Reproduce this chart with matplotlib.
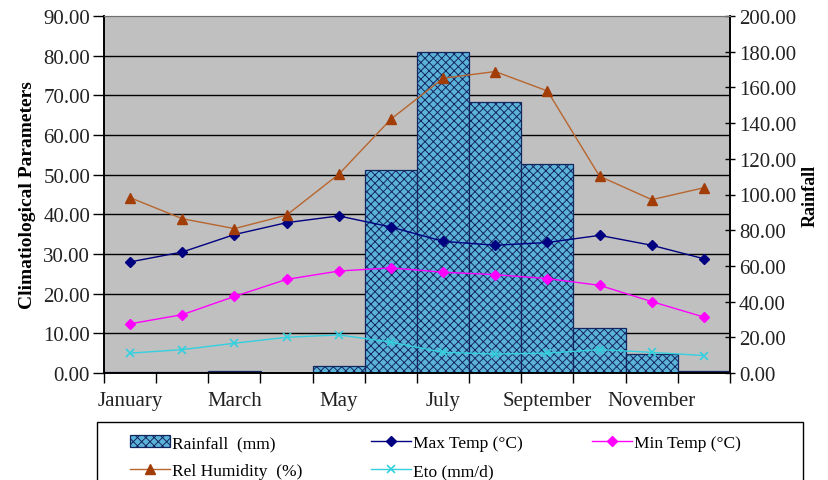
import numpy as np
import matplotlib.pyplot as plt
import matplotlib.ticker as mticker
from matplotlib.patches import Rectangle

plt.rcParams['font.family'] = ['Liberation Serif', 'DejaVu Serif']
plt.rcParams['hatch.linewidth'] = 0.7

# %%
months = ['January', 'February', 'March', 'April', 'May', 'June', 'July',
          'August', 'September', 'October', 'November', 'December']
rainfall = [0.6, 0.5, 1.3, 0.0, 4.0, 114.0, 180.0, 152.0, 117.0, 25.0, 10.5, 1.3]
max_temp = [28.0, 30.5, 34.9, 37.9, 39.6, 36.8, 33.2, 32.2, 32.9, 34.7, 32.2, 28.8]
min_temp = [12.4, 14.7, 19.3, 23.6, 25.7, 26.5, 25.4, 24.8, 23.8, 22.1, 18.0, 14.1]
rel_hum = [44.2, 38.9, 36.4, 39.8, 50.1, 64.0, 74.3, 76.0, 71.1, 49.6, 43.7, 46.7]
eto = [5.0, 5.9, 7.5, 9.0, 9.6, 7.8, 5.2, 4.8, 5.0, 5.9, 5.2, 4.4]
left_ticks = [0, 10, 20, 30, 40, 50, 60, 70, 80, 90]
right_ticks = [0, 20, 40, 60, 80, 100, 120, 140, 160, 180, 200]

# %%
fig = plt.figure(figsize=(8.29, 4.81), dpi=100)
ax = fig.add_axes([104/829, 1-374/481, 626/829, 357/481])
ax2 = ax.twinx()
ax.set_zorder(ax2.get_zorder() + 1)
ax.patch.set_visible(False)
ax2.patch.set_visible(True)
ax2.patch.set_facecolor('#c0c0c0')

x = np.arange(len(months))

# grid lines follow the left axis but sit behind the bars
for v in left_ticks[1:-1]:
    ax2.axhline(v * 200 / 90, color='black', lw=1.0, zorder=0)

bars = ax2.bar(x, rainfall, width=1.0, facecolor='#5cb3da', edgecolor='#14265e',
               hatch='xxxx', lw=0.9, zorder=1, label='Rainfall  (mm)')

l_max, = ax.plot(x, max_temp, color='#000080', marker='D', ms=5.5, lw=1.0,
                 label='Max Temp (°C)')
l_min, = ax.plot(x, min_temp, color='#ff00ff', marker='D', ms=5.5, lw=1.0,
                 label='Min Temp (°C)')
l_rh, = ax.plot(x, rel_hum, color='#b8652e', marker='^', ms=7, lw=1.0,
                mfc='#a33d08', mec='#a33d08', label='Rel Humidity  (%)')
l_eto, = ax.plot(x, eto, color='#33d0e0', marker='x', ms=6, lw=1.0, mew=1.2,
                 label='Eto (mm/d)')

ax.set_xlim(-0.5, 11.5)
ax.set_ylim(0, 90)
ax2.set_ylim(0, 200)

ax.set_xticks(x[::2])
ax.set_xticklabels(months[::2])
ax.set_xticks(np.arange(-0.5, 12, 1), minor=True)
ax.tick_params(axis='x', which='major', length=0, pad=13, labelsize=15, labelcolor='#222222')
ax.tick_params(axis='x', which='minor', length=7, width=1, direction='out')

ax.set_yticks(left_ticks)
ax.yaxis.set_major_formatter(mticker.FormatStrFormatter('%.2f'))
ax.tick_params(axis='y', length=8, width=1, labelsize=15, labelcolor='#222222', pad=2)
ax2.set_yticks(right_ticks)
ax2.yaxis.set_major_formatter(mticker.FormatStrFormatter('%.2f'))
ax2.tick_params(axis='y', direction='inout', length=7, width=1, labelsize=15,
                labelcolor='#222222', pad=3)

ax.set_ylabel('Climatiological Parameters', fontweight='bold', fontsize=14, labelpad=5)
ax2.set_ylabel('Rainfall', fontweight='bold', fontsize=13, labelpad=4)

for a in (ax, ax2):
    a.spines['top'].set_color('#707070')
    a.spines['left'].set_linewidth(1.2)
    a.spines['right'].set_linewidth(1.2)
    a.spines['bottom'].set_linewidth(1.2)

# legend box runs off the bottom edge, as in the original
fig.patches.append(Rectangle((97/829, -0.05), 706/829, 1-423/481+0.05,
                             transform=fig.transFigure, fill=False,
                             edgecolor='black', lw=1.0))
handles = [bars, l_rh, l_max, l_eto, l_min]
leg = fig.legend(handles, [h.get_label() for h in handles],
                 loc='upper left', bbox_to_anchor=(130/829, 1-436/481),
                 ncol=3, fontsize=12.5, frameon=False,
                 handlelength=2.3, handletextpad=0.1, columnspacing=4.0,
                 labelspacing=0.68, borderpad=0, borderaxespad=0)

fig.savefig('out.png', dpi=100)
